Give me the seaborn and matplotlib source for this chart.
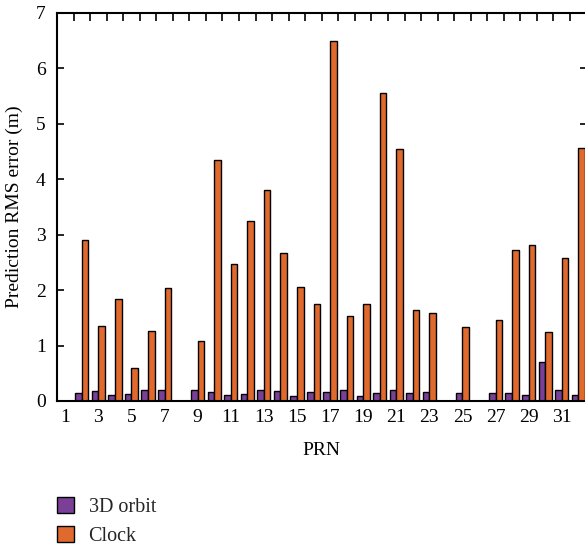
import numpy as np
import pandas as pd
import seaborn as sns
import matplotlib.pyplot as plt
from matplotlib.patches import Patch

nan = np.nan
prn = list(range(1, 33))
orbit = [nan, 0.15, 0.175, 0.10, 0.13, 0.20, 0.19, nan, 0.19, 0.16,
         0.10, 0.13, 0.19, 0.18, 0.09, 0.16, 0.17, 0.20, 0.09, 0.14,
         0.19, 0.14, 0.17, nan, 0.14, nan, 0.15, 0.14, 0.10, 0.71,
         0.20, 0.11]
clock = [nan, 2.91, 1.36, 1.84, 0.60, 1.26, 2.04, nan, 1.09, 4.35,
         2.47, 3.25, 3.81, 2.67, 2.06, 1.75, 6.50, 1.53, 1.75, 5.56,
         4.55, 1.64, 1.59, nan, 1.33, nan, 1.46, 2.72, 2.81, 1.25,
         2.58, 4.57]
series = ["3D orbit", "Clock"]
colors = ["#7B3F98", "#E0692E"]

df = pd.DataFrame({
    "PRN": prn * 2,
    "value": orbit + clock,
    "series": [series[0]] * len(prn) + [series[1]] * len(prn),
})

sns.set_theme(style="ticks")
plt.rcParams['font.family'] = ['Liberation Serif', 'DejaVu Serif']
FS = 14

fig = plt.figure(figsize=(5.85, 5.46), dpi=100)
ax = fig.add_axes([0.0974, 0.2656, 0.9053, 0.7106])

sns.barplot(data=df, x="PRN", y="value", hue="series", hue_order=series,
            palette=colors, native_scale=True, width=0.8, dodge=True,
            edgecolor="black", linewidth=1.0, errorbar=None, legend=False,
            saturation=1, ax=ax)

ax.set_xlim(0.5, 32.5)
ax.set_ylim(0, 7)
ax.set_yticks(range(0, 8))
ax.set_xticks(range(1, 33, 2))
ax.set_xticklabels([str(v) for v in range(1, 33, 2)])
ax.set_xticks(np.arange(1.5, 32.5, 1.0), minor=True)

ax.tick_params(axis='y', which='major', direction='in', left=True, right=True,
               length=5, width=1.2, color='black', labelsize=FS, pad=8,
               labelcolor='black')
ax.tick_params(axis='x', which='major', bottom=False, top=False, length=0,
               labelsize=FS, pad=6, labelcolor='black')
ax.tick_params(axis='x', which='minor', bottom=False, top=True, direction='in',
               length=6, width=1.2, color='black')

for s in ax.spines.values():
    s.set_color('black')
    s.set_linewidth(1.5)

ax.set_xlabel("PRN", fontsize=FS, color='black', labelpad=11)
ax.set_ylabel("Prediction RMS error (m)", fontsize=FS, color='black', labelpad=9)

handles = [Patch(facecolor=c, edgecolor='black', linewidth=1.0) for c in colors]
fig.legend(handles, series, loc='upper left', bbox_to_anchor=(0.097, 1 - 497 / 546),
           frameon=False, fontsize=14.5, handlelength=0.88, handleheight=0.88,
           handletextpad=0.7, labelspacing=0.42, borderpad=0, borderaxespad=0)

fig.savefig("out.png", dpi=100)
